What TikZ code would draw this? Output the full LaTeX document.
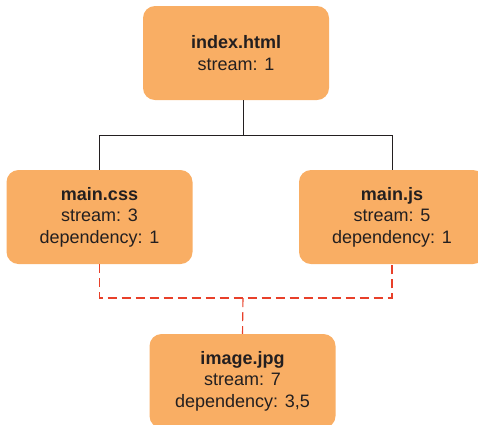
\documentclass[tikz,border=0pt]{standalone}
\usepackage{fontspec}
\setmainfont{Liberation Sans}
\definecolor{boxfill}{HTML}{F9AE64}
\definecolor{txt}{HTML}{231F20}
\definecolor{depred}{HTML}{E8402A}
\tikzset{
  filebox/.style={fill=boxfill, draw=none, rounded corners=12pt, minimum width=186pt, minimum height=94pt,
    align=center, text=txt, font=\fontsize{18}{21.6}\selectfont, inner sep=0pt},
  tree/.style={draw=txt, line width=1pt},
  dep/.style={draw=depred, line width=1.1pt, dash pattern=on 9pt off 5pt}
}
\begin{document}
\begin{tikzpicture}[x=1pt,y=-1pt]
\useasboundingbox (0,0) rectangle (478,424);
\clip (0,0) rectangle (478,424);
\node[filebox] (index) at (236,53) {\textbf{index.html}\\stream: 1};
\node[filebox] (css) at (99.5,217) {\textbf{main.css}\\stream: 3\\dependency: 1};
\node[filebox] (js) at (392,217) {\textbf{main.js}\\stream: 5\\dependency: 1};
\node[filebox] (img) at (242.5,381) {\textbf{image.jpg}\\stream: 7\\dependency: 3,5};
\coordinate (t) at (243,135);
\coordinate (d) at (243,298);
\draw[tree] ([xshift=7pt]index.south) -- (t);
\draw[tree] (css.north) -- (css.north |- t) -- (js.north |- t) -- (js.north);
\draw[dep] (css.south) -- (css.south |- d) -- (js.south |- d) -- (js.south);
\draw[dep] (d) -- (img.north);
\end{tikzpicture}
\end{document}
